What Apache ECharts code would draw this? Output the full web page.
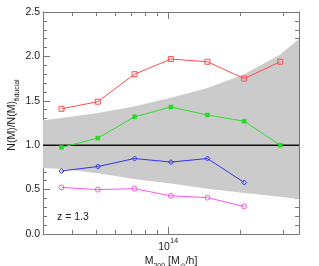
<!DOCTYPE html>
<html><head><meta charset="utf-8">
<script src="https://cdn.jsdelivr.net/npm/echarts@6/dist/echarts.min.js"></script>
<style>html,body{margin:0;padding:0;background:#fff}#c{width:319px;height:266px}</style>
</head><body><div id="c"></div>
<script>
// log10(M200 [Msun/h]) of the mass bins
const logMass = [13.556, 13.707, 13.860, 14.011, 14.163, 14.316, 14.466];
const redRatio = [1.41, 1.49, 1.80, 1.97, 1.94, 1.75, 1.94];
const greenRatio = [0.975, 1.08, 1.32, 1.43, 1.34, 1.27, 1.00];
const blueRatio = [0.71, 0.76, 0.85, 0.81, 0.85, 0.58];
const magentaRatio = [0.525, 0.50, 0.51, 0.43, 0.41, 0.31];
const fiducialRatio = [1, 1, 1, 1, 1, 1, 1];
// shaded band
const bandLogMass = [13.479, 13.556, 13.707, 13.857, 14.011, 14.163, 14.316, 14.466, 14.544];
const bandUpper = [1.28, 1.306, 1.363, 1.437, 1.535, 1.644, 1.80, 2.02, 2.196];
const bandLower = [0.743, 0.732, 0.683, 0.619, 0.57, 0.51, 0.462, 0.42, 0.394];
// ticks
const majorTickLogM = [14];
const minorTickMass = [4e13, 5e13, 6e13, 7e13, 8e13, 9e13, 2e14, 3e14];
const yTickLabels = ['0.0', '0.5', '1.0', '1.5', '2.0', '2.5'];
const xMin = 13.479, xMax = 14.544;

const minorTickLogM = minorTickMass.map(m => Math.log10(m));
const pairs = (xs, ys) => ys.map((y, i) => [xs[i], y]);

const frame = '#777';
const txt = '#222';
const font = 'Liberation Sans, Arial, sans-serif';

function xAxisDef(pos, ticks, len, labels, line) {
  return {
    type: 'value', position: pos, min: xMin, max: xMax,
    axisLine: { show: line, onZero: false, lineStyle: { color: frame, width: 1 } },
    axisTick: { show: true, inside: true, length: len, customValues: ticks, lineStyle: { color: frame } },
    axisLabel: labels ? {
      show: true, customValues: majorTickLogM, margin: 3,
      formatter: v => '{a|10}{b|' + Math.round(v) + '}',
      rich: {
        a: { fontSize: 10.5, fontFamily: font, color: txt, lineHeight: 16, verticalAlign: 'bottom' },
        b: { fontSize: 7.5, fontFamily: font, color: txt, lineHeight: 10, verticalAlign: 'top' }
      }
    } : { show: false },
    splitLine: { show: false }
  };
}
function yAxisDef(pos, labels) {
  return {
    type: 'value', position: pos, min: 0, max: 2.5, interval: 0.5,
    axisLine: { show: true, lineStyle: { color: frame, width: 1 } },
    axisTick: { show: true, inside: true, length: 7, lineStyle: { color: frame } },
    minorTick: { show: true, splitNumber: 5, length: 4, lineStyle: { color: frame } },
    axisLabel: labels ? {
      show: true, margin: 3, fontSize: 10.5, fontFamily: font, color: txt,
      formatter: v => yTickLabels[Math.round(v / 0.5)]
    } : { show: false },
    splitLine: { show: false }, minorSplitLine: { show: false }
  };
}

const subRich = (fillKey) => ({
  m: { fontSize: 10.5, fontFamily: font, [fillKey]: txt, lineHeight: 12, verticalAlign: 'top' },
  s: { fontSize: 7, fontFamily: font, [fillKey]: txt, lineHeight: 14, verticalAlign: 'bottom' }
});

const xa = [
  xAxisDef('bottom', majorTickLogM, 7, true, true),
  xAxisDef('bottom', minorTickLogM, 4, false, false),
  xAxisDef('top', majorTickLogM, 7, false, true),
  xAxisDef('top', minorTickLogM, 4, false, false)
];
xa[0].name = '{m|M}{s|200}{m| [M}{s|⊙}{m|/h]}';
xa[0].nameLocation = 'middle';
xa[0].nameGap = 22;
xa[0].nameMoveOverlap = false;
xa[0].nameTextStyle = { rich: subRich('color') };

const chart = echarts.init(document.getElementById('c'), null, { renderer: 'canvas' });
chart.setOption({
  animation: false,
  backgroundColor: '#fff',
  grid: { left: 43, right: 20, top: 12, bottom: 32, containLabel: false, outerBoundsMode: 'none' },
  xAxis: xa,
  yAxis: [yAxisDef('left', true), yAxisDef('right', false)],
  graphic: [
    {
      type: 'text', x: 14, y: 115, rotation: Math.PI / 2,
      style: {
        text: '{m|N(M)/N(M)}{s|fiducial}', align: 'center', verticalAlign: 'middle',
        rich: subRich('fill')
      }
    },
    {
      type: 'text', left: 57, top: 212,
      style: { text: 'z = 1.3', fontSize: 10.5, fontFamily: font, fill: txt }
    }
  ],
  series: [
    {
      type: 'custom', z: 1, silent: true,
      data: bandLogMass.map((x, i) => [x, bandLower[i], bandUpper[i]]),
      encode: { x: 0, y: [1, 2] },
      renderItem: (params, api) => {
        if (params.dataIndex !== 0) return null;
        const top = bandLogMass.map((x, i) => api.coord([x, bandUpper[i]]));
        const bot = bandLogMass.map((x, i) => api.coord([x, bandLower[i]])).reverse();
        return { type: 'polygon', shape: { points: top.concat(bot) }, style: { fill: '#cbcbcb' } };
      }
    },
    { type: 'line', data: [[xMin, 1], [xMax, 1]], symbol: 'none',
      lineStyle: { color: '#111', width: 1.5 }, z: 2 },
    { type: 'line', data: pairs(logMass, fiducialRatio), symbol: 'path://M0,0L0,10', symbolSize: [1, 6],
      itemStyle: { color: '#111', borderColor: '#111', borderWidth: 1 },
      lineStyle: { width: 0, opacity: 0 }, z: 3 },
    { type: 'line', data: pairs(logMass, redRatio), symbol: 'rect', symbolSize: 5,
      itemStyle: { color: 'rgba(0,0,0,0)', borderColor: '#ff4d4d', borderWidth: 1 },
      lineStyle: { color: '#ff4d4d', width: 1 }, z: 4 },
    { type: 'line', data: pairs(logMass, greenRatio), symbol: 'rect', symbolSize: 4,
      itemStyle: { color: '#22dd22', borderColor: '#22dd22', borderWidth: 0.5 },
      lineStyle: { color: '#33dd33', width: 1 }, z: 4 },
    { type: 'line', data: pairs(logMass, blueRatio), symbol: 'diamond', symbolSize: 5,
      itemStyle: { color: 'rgba(0,0,0,0)', borderColor: '#3333ee', borderWidth: 1 },
      lineStyle: { color: '#3333ee', width: 1 }, z: 4 },
    { type: 'line', data: pairs(logMass, magentaRatio), symbol: 'circle', symbolSize: 5,
      itemStyle: { color: 'rgba(0,0,0,0)', borderColor: '#ff55ee', borderWidth: 1 },
      lineStyle: { color: '#ff55ee', width: 1 }, z: 4 }
  ]
});
</script>
</body></html>
